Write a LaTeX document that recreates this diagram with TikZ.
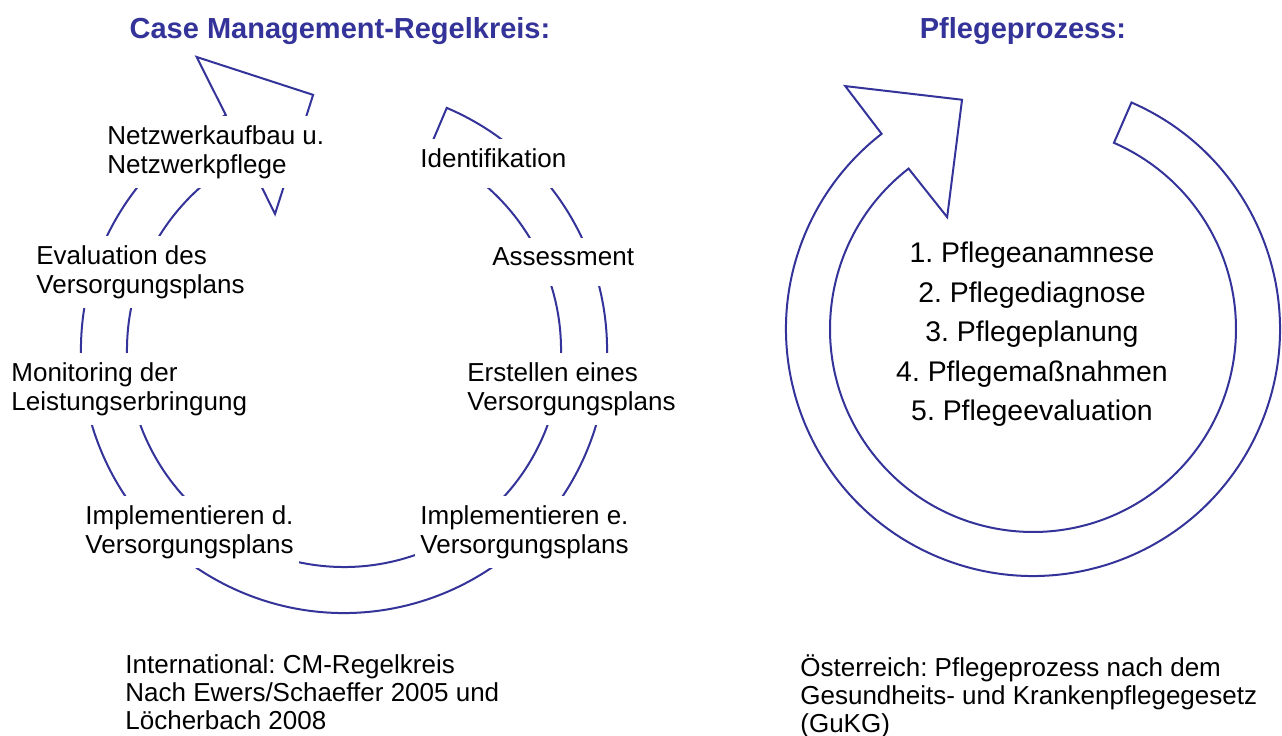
\documentclass[tikz,border=0pt]{standalone}
\usepackage{fontspec}
\setmainfont{Liberation Sans}
\usepackage{tikz}
\frenchspacing
\definecolor{ringblue}{HTML}{333399}
\tikzset{
  ring/.style={draw=ringblue, line width=1pt, line join=miter},
  title/.style={font=\fontsize{14.5}{17}\selectfont\bfseries, text=ringblue, anchor=base, inner sep=0pt},
  stage/.style={fill=white, align=left, anchor=north west, inner xsep=2.5pt, inner ysep=4.5pt,
    font=\fontsize{13}{14.5}\selectfont},
  source/.style={align=left, anchor=north west, inner sep=0pt, font=\fontsize{13}{14}\selectfont}
}

\begin{document}
\begin{tikzpicture}[x=0.5pt, y=0.5pt]
		%%%%% START %%%%%
		\useasboundingbox (0,0) rectangle (1282,735);

		\node[title] (cmtitle) at (340,696) {Case Management-Regelkreis:};
		\node[title] (pptitle) at (1023,696) {Pflegeprozess:};

		% CM-Regelkreis: open ring with head at top left
		\draw[ring, shift={(344,385)}] (67:263) arc[start angle=67, end angle=-243.3, radius=263]
			-- (116.7:328) -- (96.9:257) -- (116.9:152.5) -- (116.7:217)
			arc[start angle=-243.3, end angle=67, radius=217] -- cycle;

		% stage labels sit on the ring and blank it out
		\node[stage] (netz) at (102,619) {Netzwerkaufbau u.\\Netzwerkpflege};
		\node[stage, text depth=6pt] (ident) at (415,596) {Identifikation};
		\node[stage, text depth=6pt] (assess) at (487,497) {Assessment};
		\node[stage] (eval) at (31,499) {Evaluation des\\Versorgungsplans};
		\node[stage] (monit) at (6,382) {Monitoring der\\Leistungserbringung};
		\node[stage] (erst) at (462,382) {Erstellen eines\\Versorgungsplans};
		\node[stage] (impld) at (80,239) {Implementieren d.\\Versorgungsplans};
		\node[stage] (imple) at (415,239) {Implementieren e.\\Versorgungsplans};

		% Pflegeprozess ring
		\draw[ring, shift={(1033,406)}] (66.5:247) arc[start angle=66.5, end angle=-232.2, radius=247]
			-- (127.7:307) -- (107.2:240) -- (127.5:141) -- (127.8:203)
			arc[start angle=-232.2, end angle=66.5, radius=203] -- cycle;

		\node[align=center, anchor=north, inner sep=0pt, font=\fontsize{14.2}{19.75}\selectfont] (steps) at (1032,493)
			{1. Pflegeanamnese\\2. Pflegediagnose\\3. Pflegeplanung\\4. Pflegemaßnahmen\\5. Pflegeevaluation};

		\node[source] (cmsrc) at (125,81) {International: CM-Regelkreis\\Nach Ewers/Schaeffer 2005 und\\Löcherbach 2008};
		\node[source] (ppsrc) at (800,81) {Österreich: Pflegeprozess nach dem\\Gesundheits- und Krankenpflegegesetz\\(GuKG)};
		%%%%% END %%%%%
\end{tikzpicture}
\end{document}
